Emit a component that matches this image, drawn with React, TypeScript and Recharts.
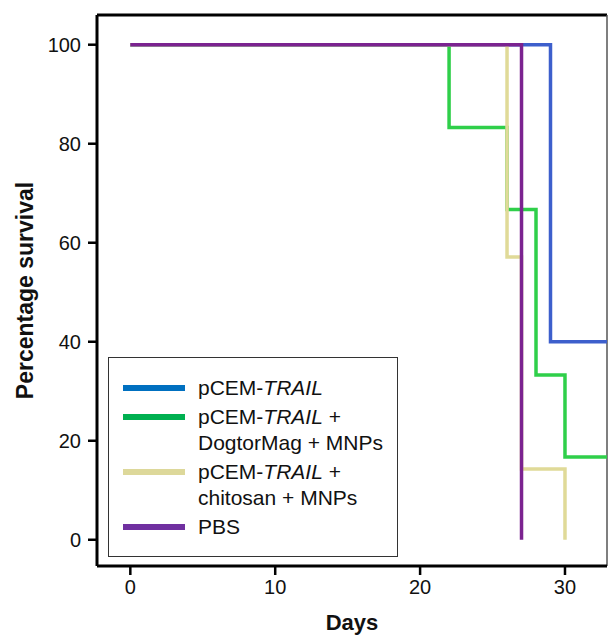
import { LineChart, Line, XAxis, YAxis, Legend, ReferenceLine } from 'recharts';

// Kaplan-Meier style steps: each point is (day, % surviving) from that day on
const trailDays = [0, 29, 33];
const trailSurvival = [100, 40, 40];

const dogtorDays = [0, 22, 26, 28, 30, 33];
const dogtorSurvival = [100, 83.3, 66.7, 33.3, 16.7, 16.7];

const chitosanDays = [0, 26, 27, 30];
const chitosanSurvival = [100, 57.1, 14.3, 0];

const pbsDays = [0, 27];
const pbsSurvival = [100, 0];

const xTicks = [0, 10, 20, 30];
const yTicks = [0, 20, 40, 60, 80, 100];

const toPoints = (days: number[], vals: number[]) => days.map((day, i) => ({ day, value: vals[i] }));

const SERIES = [
  { key: 'trail', data: toPoints(trailDays, trailSurvival), color: '#3d5fcc', legendColor: '#0070c0', label: [['pCEM-', 'TRAIL', '']] },
  { key: 'dogtor', data: toPoints(dogtorDays, dogtorSurvival), color: '#2fcf4a', legendColor: '#00b050', label: [['pCEM-', 'TRAIL', ' +'], ['DogtorMag + MNPs']] },
  { key: 'chitosan', data: toPoints(chitosanDays, chitosanSurvival), color: '#e0da98', legendColor: '#ddd89a', label: [['pCEM-', 'TRAIL', ' +'], ['chitosan + MNPs']] },
  { key: 'pbs', data: toPoints(pbsDays, pbsSurvival), color: '#7b2390', legendColor: '#7030a0', label: [['PBS']] },
];

const FONT = '"Liberation Sans", Arial, sans-serif';

function SurvivalLegend() {
  return (
    <div
      style={{
        border: '1.5px solid #333',
        width: 290,
        height: 200,
        boxSizing: 'border-box',
        padding: '17px 0 0 14px',
        fontFamily: FONT,
        fontSize: 21,
        color: '#111',
        background: '#fff',
      }}
    >
      {SERIES.map((s) => (
        <div key={s.key} style={{ display: 'flex', alignItems: 'flex-start', marginBottom: 3 }}>
          <div style={{ width: 62, height: 6, background: s.legendColor, marginTop: 10, marginRight: 13, flexShrink: 0 }} />
          <div style={{ lineHeight: '26px' }}>
            {s.label.map((line, i) => (
              <div key={i}>
                {line[0]}
                {line[1] && <i>{line[1]}</i>}
                {line[2]}
              </div>
            ))}
          </div>
        </div>
      ))}
    </div>
  );
}

export default function App() {
  return (
    <div style={{ position: 'absolute', left: 0, top: 0, background: '#fff' }}>
      <LineChart width={608} height={637} margin={{ top: 15, right: 1, left: 0, bottom: 0 }}>
        <XAxis
          type="number"
          dataKey="day"
          domain={[-2.3, 32.9]}
          allowDataOverflow
          ticks={xTicks}
          height={71}
          stroke="#000"
          axisLine={{ strokeWidth: 3 }}
          tickLine={{ strokeWidth: 2.5 }}
          tickSize={9}
          tickMargin={5}
          tick={{ fill: '#111', fontSize: 20, fontFamily: FONT }}
          label={{ value: 'Days', position: 'insideBottom', offset: 7, style: { fontSize: 22, fontWeight: 'bold', fontFamily: FONT, fill: '#111' } }}
        />
        <YAxis
          type="number"
          domain={[-5.3, 106]}
          allowDataOverflow
          ticks={yTicks}
          width={97}
          stroke="#000"
          axisLine={{ strokeWidth: 3 }}
          tickLine={{ strokeWidth: 2.5 }}
          tickSize={9}
          tickMargin={7}
          tick={{ fill: '#111', fontSize: 20, fontFamily: FONT }}
          label={{ value: 'Percentage survival', angle: -90, position: 'insideLeft', offset: 25, style: { textAnchor: 'middle', fontSize: 23, fontWeight: 'bold', fontFamily: FONT, fill: '#111' } }}
        />
        <ReferenceLine y={106} stroke="#000" strokeWidth={3} ifOverflow="extendDomain" />
        <ReferenceLine x={32.9} stroke="#555" strokeWidth={1.5} ifOverflow="extendDomain" />
        {SERIES.map((s) => (
          <Line
            key={s.key}
            data={s.data}
            dataKey="value"
            type="stepAfter"
            stroke={s.color}
            strokeWidth={3.5}
            dot={false}
            activeDot={false}
            isAnimationActive={false}
          />
        ))}
        <Legend
          layout="vertical"
          align="center"
          verticalAlign="middle"
          wrapperStyle={{ left: 108, top: 357, width: 290 }}
          content={() => <SurvivalLegend />}
        />
      </LineChart>
    </div>
  );
}
